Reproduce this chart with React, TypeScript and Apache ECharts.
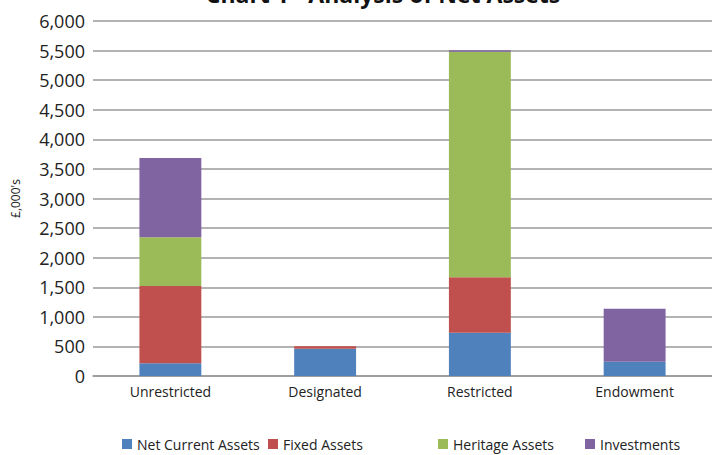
import React, { useEffect, useRef } from "react";
import * as echarts from "echarts";

const categories = ["Unrestricted", "Designated", "Restricted", "Endowment"];
const netCurrentAssets = [215, 461, 732, 242];
const fixedAssets = [1305, 40, 936, 0];
const heritageAssets = [825, 0, 3814, 0];
const investments = [1340, 0, 25, 896];
const seriesNames = ["Net Current Assets", "Fixed Assets", "Heritage Assets", "Investments"];
const colors = ["#4F81BD", "#C0504D", "#9BBB59", "#8064A2"];
const legendLefts = [122, 268, 438, 585];
const titleText = "Chart 1 - Analysis of Net Assets";

export default function App() {
  const ref = useRef<HTMLDivElement>(null);
  useEffect(() => {
    if (!ref.current) return;
    const chart = echarts.init(ref.current, undefined, { renderer: "svg" });
    const data = [netCurrentAssets, fixedAssets, heritageAssets, investments];
    const font = "'Open Sans', 'Noto Sans', sans-serif";
    chart.setOption({
      animation: false,
      graphic: [
        {
          type: "text",
          x: 383,
          y: 5,
          style: {
            text: titleText,
            textAlign: "center",
            textVerticalAlign: "bottom",
            fontFamily: font,
            fontSize: 23,
            fontWeight: "bold",
            fill: "#111",
          },
        },
      ],
      grid: { left: 93, right: 0, top: 21, bottom: 79 },
      legend: seriesNames.map((n, i) => ({
        data: [n],
        left: legendLefts[i],
        top: 437,
        itemWidth: 10,
        itemHeight: 10,
        itemGap: 5,
        padding: 0,
        icon: "rect",
        textStyle: { fontFamily: font, fontSize: 14, color: "#222" },
      })),
      xAxis: {
        type: "category",
        data: categories,
        axisLine: { show: true, lineStyle: { color: "#999", width: 1.5 } },
        axisTick: { show: false },
        axisLabel: { fontFamily: font, fontSize: 14, color: "#222", margin: 8 },
      },
      yAxis: {
        type: "value",
        min: 0,
        max: 6000,
        interval: 500,
        name: "£,000's",
        nameLocation: "middle",
        nameGap: 72,
        nameRotate: 90,
        nameTextStyle: { fontFamily: font, fontSize: 12, color: "#222" },
        axisLine: { show: false },
        axisTick: { show: false },
        splitLine: { lineStyle: { color: "#9a9a9a", width: 1.5 } },
        axisLabel: {
          fontFamily: font,
          fontSize: 18,
          color: "#222",
          margin: 8,
          padding: [0, 0, 8, 0],
          formatter: (v: number) => v.toLocaleString("en-GB"),
        },
      },
      series: seriesNames.map((n, i) => ({
        name: n,
        type: "bar",
        stack: "total",
        barWidth: "40%",
        data: data[i],
        itemStyle: { color: colors[i] },
      })),
    });
    return () => chart.dispose();
  }, []);
  return <div ref={ref} style={{ width: 712, height: 455, position: "absolute", left: 0, top: 0 }} />;
}
